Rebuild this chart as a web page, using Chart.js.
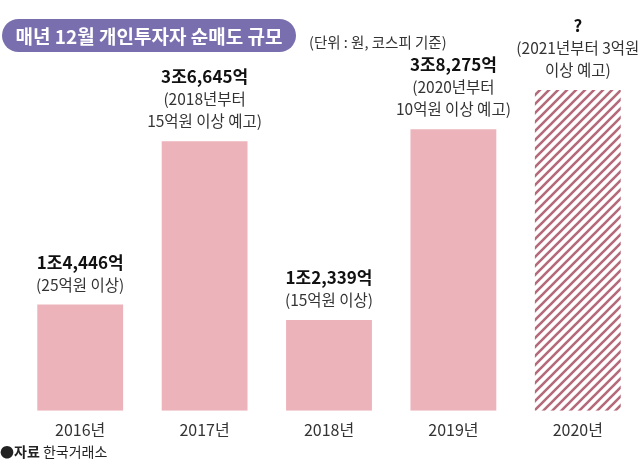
<!DOCTYPE html>
<html>
<head>
<meta charset="utf-8">
<script src="https://cdn.jsdelivr.net/npm/chart.js@4"></script>
<style>
  body { margin: 0; background: #fff; font-family: "Noto Sans CJK KR", sans-serif; }
  #wrap { position: relative; width: 640px; height: 473px; }
  #title {
    position: absolute; left: 2px; top: 19px; width: 294px; height: 33px;
    background: #7a6fae; color: #fff; border-radius: 17px;
    font-size: 19px; font-weight: bold; line-height: 33px; text-align: center;
  }
  #unit { position: absolute; left: 309px; top: 31px; font-size: 14.5px; color: #333; }
  #source { position: absolute; left: 0; top: 441px; font-size: 14px; color: #222; }
  #source b { font-weight: bold; }
</style>
</head>
<body>
<div id="wrap">
  <canvas id="chart" width="640" height="473"></canvas>
  <div id="title">매년 12월 개인투자자 순매도 규모</div>
  <div id="unit">(단위 : 원, 코스피 기준)</div>
  <div id="source">●<b>자료</b> 한국거래소</div>
</div>
<script>
const years = ["2016년", "2017년", "2018년", "2019년", "2020년"];
const sellAmount = [14446, 36645, 12339, 38275, 43600];
const valueLabels = ["1조4,446억", "3조6,645억", "1조2,339억", "3조8,275억", "?"];
const noteLabels = [
  ["(25억원 이상)"],
  ["(2018년부터", "15억원 이상 예고)"],
  ["(15억원 이상)"],
  ["(2020년부터", "10억원 이상 예고)"],
  ["(2021년부터 3억원", "이상 예고)"]
];

const font = '"Noto Sans CJK KR", sans-serif';

function stripes() {
  const c = document.createElement("canvas");
  c.width = 9; c.height = 9;
  const g = c.getContext("2d");
  g.fillStyle = "#fff";
  g.fillRect(0, 0, 9, 9);
  g.strokeStyle = "#b46a7a";
  g.lineWidth = 2.6;
  g.beginPath();
  g.moveTo(-2, 11); g.lineTo(11, -2);
  g.moveTo(-11, 11); g.lineTo(2, -2);
  g.moveTo(7, 11); g.lineTo(20, -2);
  g.stroke();
  return g.createPattern(c, "repeat");
}

const labelPlugin = {
  id: "barLabels",
  afterDatasetsDraw(chart) {
    const ctx = chart.ctx;
    const meta = chart.getDatasetMeta(0);
    ctx.save();
    ctx.textAlign = "center";
    ctx.textBaseline = "alphabetic";
    meta.data.forEach((bar, i) => {
      const notes = noteLabels[i];
      let y = bar.y - 14;
      ctx.fillStyle = "#333";
      ctx.font = "15.5px " + font;
      for (let k = notes.length - 1; k >= 0; k--) {
        ctx.fillText(notes[k], bar.x, y);
        y -= 22;
      }
      ctx.fillStyle = "#111";
      ctx.font = "bold 17px " + font;
      ctx.fillText(valueLabels[i], bar.x, y);
    });
    ctx.restore();
  }
};

const ctx = document.getElementById("chart").getContext("2d");
new Chart(ctx, {
  type: "bar",
  data: {
    labels: years,
    datasets: [{
      data: sellAmount,
      backgroundColor: ["#ecb3ba", "#ecb3ba", "#ecb3ba", "#ecb3ba", stripes()],
      borderWidth: 0,
      barPercentage: 0.69,
      categoryPercentage: 1
    }]
  },
  options: {
    responsive: false,
    animation: false,
    layout: { padding: { left: 18, right: 0, top: 43, bottom: 23 } },
    plugins: { legend: { display: false }, tooltip: { enabled: false } },
    scales: {
      x: {
        grid: { display: false, drawTicks: false },
        border: { display: false },
        ticks: { color: "#333", font: { family: font, size: 16 }, padding: 10 }
      },
      y: { display: false, min: 0, max: 50000 }
    }
  },
  plugins: [labelPlugin]
});
</script>
</body>
</html>
